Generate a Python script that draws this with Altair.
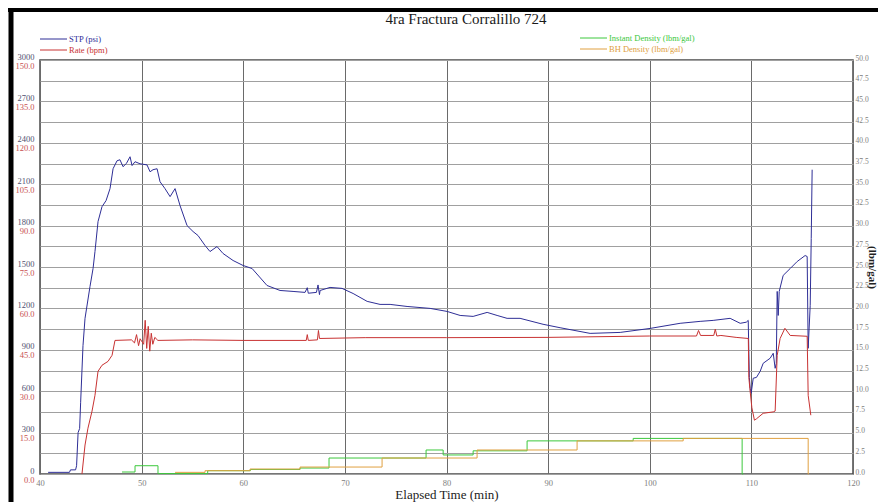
import altair as alt
import pandas as pd

SERIF = "Liberation Serif"

# ---- data ----
stp_t = [40.8, 42.9, 43.0, 43.5, 43.6, 43.75, 43.9, 44.0, 44.23, 44.43, 44.92, 45.22, 45.41, 45.71, 46.10,
         46.50, 46.89, 47.19, 47.58, 47.87, 48.17, 48.5, 48.86, 49.06, 49.35, 49.84, 50.53, 50.83, 51.12,
         51.52, 51.81, 52.30, 52.80, 53.29, 53.78, 54.47, 55.06, 55.55, 56.24, 56.73, 57.42, 58.01, 59.00,
         59.98, 60.87, 62.34, 63.62, 64.90, 66.08, 66.3, 66.4, 67.2, 67.36, 67.5, 67.56, 68.54, 69.72,
         70.81, 72.19, 73.46, 74.45, 76.12, 78.39, 80.06, 81.34, 82.62, 84.00, 84.98, 85.96, 87.24, 89.5,
         91.18, 94.13, 97.09, 100.04, 102.99, 104.96, 106.24, 107.91, 108.90, 109.5, 109.69, 109.8, 109.88,
         109.98, 110.18, 110.5, 110.87, 111.16, 111.85, 112.15, 112.34, 112.45, 112.54, 112.64, 112.74,
         113.13, 113.82, 114.51, 115.29, 115.49, 115.59, 115.79, 115.89, 115.98]
stp_psi = [12, 12, 30, 30, 60, 300, 330, 520, 930, 1128, 1359, 1489, 1612, 1829, 1937,
           1981, 2068, 2212, 2270, 2277, 2227, 2250, 2299, 2235, 2263, 2248, 2240, 2190, 2205,
           2212, 2118, 2068, 2010, 2068, 1945, 1800, 1757, 1728, 1656, 1612, 1648, 1598, 1547,
           1511, 1489, 1366, 1330, 1323, 1316, 1350, 1310, 1316, 1370, 1300, 1330, 1352, 1345,
           1308, 1251, 1229, 1229, 1214, 1200, 1178, 1149, 1142, 1171, 1149, 1128, 1128, 1085,
           1060, 1019, 1026, 1055, 1092, 1106, 1113, 1128, 1092, 1100, 1113, 700, 622,
           585, 694, 700, 745, 802, 839, 875, 766, 800, 1323, 1149, 1323,
           1439, 1489, 1540, 1583, 1576, 911, 1222, 1706, 2205]

rate_t = [44.13, 44.43, 44.72, 45.12, 45.41, 45.71, 46.10, 46.69, 47.09, 47.38, 49.0, 49.3, 49.5, 49.7,
          49.85, 50.2, 50.35, 50.5, 50.65, 50.8, 50.95, 51.1, 51.3, 51.6, 55.0, 60.0, 66.2, 66.3, 66.4,
          67.3, 67.4, 67.5, 72.0, 80.0, 90.0, 100.0, 104.6, 104.8, 105.0, 106.3, 106.45, 106.6, 107.0,
          108.5, 109.7, 109.75, 109.85, 110.05, 110.3, 110.5, 111.16, 112.15, 112.34, 112.54, 112.83,
          113.3, 113.82, 115.49, 115.59, 115.85]
rate_bpm = [0, 10.5, 16.6, 22.8, 28.5, 37.2, 39.4, 40.8, 43.0, 48.4, 48.6, 47.5, 50.5, 46.5,
            49.0, 47.0, 55.7, 45.5, 53.5, 44.5, 51.0, 47.0, 49.5, 48.4, 48.6, 48.4, 48.4, 50.5, 48.4,
            48.6, 52.0, 49.1, 49.4, 49.4, 49.5, 50.0, 50.0, 52.0, 50.2, 50.2, 52.5, 50.0, 50.2,
            49.5, 49.1, 35.0, 31.0, 24.0, 19.5, 20.0, 22.0, 22.5, 22.8, 43.0, 49.1,
            52.8, 50.2, 49.9, 28.5, 21.3]

inst_t = [48.07, 49.35, 51.61, 56.5, 60.7, 65.59, 68.44, 77.99, 79.67, 82.62, 87.93, 98.37, 109.09, 109.2]
inst_d = [0.24, 1.0, 0.05, 0.4, 0.55, 0.72, 1.93, 2.9, 2.3, 2.8, 4.0, 4.3, 0.0, 0.0]

bh_t = [53.29, 56.24, 60.67, 65.59, 73.66, 83.01, 92.85, 103.29, 115.59, 115.65]
bh_d = [0.2, 0.4, 0.6, 0.84, 1.93, 2.9, 4.0, 4.3, 0.0, 0.0]

series_names = ["STP (psi)", "Rate (bpm)", "Instant Density (lbm/gal)", "BH Density (lbm/gal)"]
series_colors = ["#2e2e96", "#c83232", "#3cc83c", "#e0a040"]
title_text = "4ra Fractura Corralillo 724"
x_title = "Elapsed Time (min)"
y2_title = "(lbm/gal)"

x_ticks = list(range(40, 121, 10))
psi_ticks = list(range(0, 3001, 150))
bpm_ticks = list(range(0, 151, 15))
dens_ticks = [i * 2.5 for i in range(21)]

stp_df = pd.DataFrame({"t": stp_t, "v": stp_psi})
rate_df = pd.DataFrame({"t": rate_t, "v": rate_bpm})
dens_df = pd.concat([
    pd.DataFrame({"t": inst_t, "v": inst_d, "s": series_names[2]}),
    pd.DataFrame({"t": bh_t, "v": bh_d, "s": series_names[3]}),
])

x_enc = alt.X("t:Q", scale=alt.Scale(domain=[40, 120], nice=False, zero=False),
              title=x_title,
              axis=alt.Axis(values=x_ticks, grid=True, gridColor="#6a6a6a", gridWidth=1,
                            labelColor="#808080", labelFont=SERIF, labelFontSize=8.5,
                            labelFlush=False, ticks=False, domain=False, labelPadding=4,
                            titleFont=SERIF, titleFontSize=13, titleFontWeight="normal",
                            titleColor="#222222", titleY=24, titleBaseline="alphabetic"))

stp = alt.Chart(stp_df).mark_line(color=series_colors[0], strokeWidth=1).encode(
    x=x_enc,
    y=alt.Y("v:Q", scale=alt.Scale(domain=[0, 3000], nice=False, zero=False), title=None,
            axis=alt.Axis(orient="left", values=psi_ticks, format="d",
                          labelExpr="datum.value % 300 == 0 ? datum.label : ''",
                          grid=True, gridColor="#a0a0a0", gridWidth=1.2,
                          labelColor="#505070", labelFont=SERIF, labelFontSize=8.5,
                          labelOffset=-4, labelPadding=6, ticks=False, domain=False,
                          labelOverlap=False)),
)

rate = alt.Chart(rate_df).mark_line(color=series_colors[1], strokeWidth=1).encode(
    x=x_enc,
    y=alt.Y("v:Q", scale=alt.Scale(domain=[0, 150], nice=False, zero=False), title=None,
            axis=alt.Axis(orient="left", values=bpm_ticks, format=".1f", grid=False,
                          labelColor="#c85050", labelFont=SERIF, labelFontSize=8.5,
                          labelOffset=5, labelPadding=6, ticks=False, domain=False,
                          labelOverlap=False)),
)

dens = alt.Chart(dens_df).mark_line(strokeWidth=1, interpolate="step-after").encode(
    x=x_enc,
    y=alt.Y("v:Q", scale=alt.Scale(domain=[0, 50], nice=False, zero=False), title=y2_title,
            axis=alt.Axis(orient="right", values=dens_ticks, format=".1f", grid=False,
                          labelColor="#808080", labelFont=SERIF, labelFontSize=7.5,
                          labelOffset=-2, labelPadding=2, ticks=False, domain=False,
                          labelOverlap=False, titleFont=SERIF, titleFontSize=11,
                          titleFontWeight="bold", titleColor="#222222", titleX=18,
                          titleBaseline="middle")),
    color=alt.Color("s:N", scale=alt.Scale(domain=series_names[2:], range=series_colors[2:]),
                    legend=None),
    detail="s:N",
)

# ---- decorations: title, legend, frame ----
deco = []
deco.append(alt.Chart(pd.DataFrame({"txt": [title_text]})).mark_text(
    font=SERIF, fontSize=15, color="#1a1a1a", align="center", baseline="middle").encode(
    text="txt:N", x=alt.value(426), y=alt.value(-41)))

legend_pos = [(0, -21), (0, -10), (540, -22), (540, -11)]
for name, col, (lx, ly) in zip(series_names, series_colors, legend_pos):
    deco.append(alt.Chart(pd.DataFrame({"txt": [name]})).mark_rule(color=col, strokeWidth=1).encode(
        x=alt.value(lx), x2=alt.value(lx + 27), y=alt.value(ly)))
    deco.append(alt.Chart(pd.DataFrame({"txt": [name]})).mark_text(
        font=SERIF, fontSize=8.5, color=col, align="left", baseline="middle").encode(
        text="txt:N", x=alt.value(lx + 29), y=alt.value(ly)))

deco.append(alt.Chart(pd.DataFrame({"a": [0]})).mark_rule(color="black", strokeWidth=4).encode(
    x=alt.value(-32), x2=alt.value(840), y=alt.value(-50)))
deco.append(alt.Chart(pd.DataFrame({"a": [0]})).mark_rule(color="black", strokeWidth=5).encode(
    x=alt.value(-29), y=alt.value(-52), y2=alt.value(444)))

chart = alt.layer(stp, rate, dens, *deco).resolve_scale(y="independent").properties(
    width=813, height=414,
    padding={"left": 32, "top": 52, "right": 25, "bottom": 28},
    autosize=alt.AutoSizeParams(type="none"),
    background="white",
).configure_view(stroke="#4a4a4a", strokeWidth=1.5)

chart.save("out.html", embed_options={"renderer": "svg", "actions": False})
